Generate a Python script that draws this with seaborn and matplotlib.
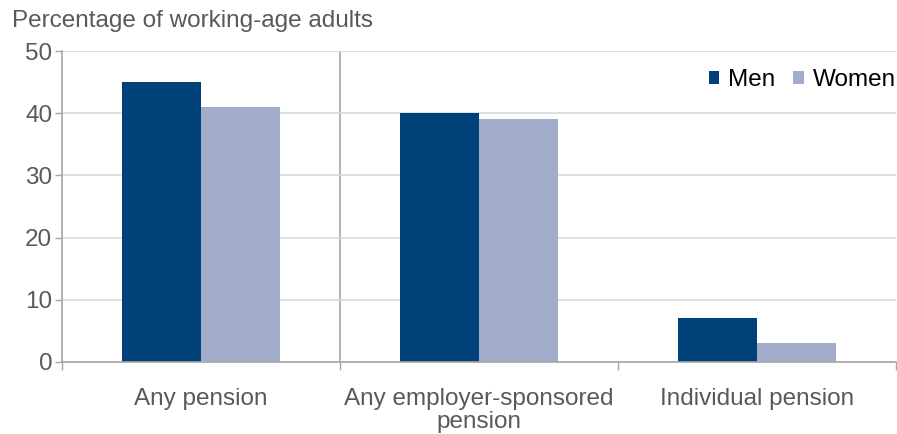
import matplotlib
matplotlib.use("Agg")
import matplotlib.pyplot as plt
import seaborn as sns
import pandas as pd

categories = ["Any pension", "Any employer-sponsored\npension", "Individual pension"]
men = [45, 40, 7]
women = [41, 39, 3]
series = ["Men", "Women"]
colors = ["#00417A", "#A2ADCB"]

df = pd.DataFrame({
    "category": categories * 2,
    "value": men + women,
    "sex": ["Men"] * 3 + ["Women"] * 3,
})

sns.set_theme(style="white")
plt.rcParams["font.family"] = ["Liberation Sans", "DejaVu Sans"]

fig = plt.figure(figsize=(8.97, 4.34), dpi=100)
ax = fig.add_axes([62 / 897, 1 - 362 / 434, (896 - 62) / 897, (362 - 51) / 434])

sns.barplot(data=df, x="category", y="value", hue="sex", hue_order=series,
            palette=colors, width=0.565, saturation=1, ax=ax, legend=True,
            linewidth=0)

ax.set_xlim(-0.5, 2.5)
ax.set_ylim(0, 50)
ax.set_yticks([0, 10, 20, 30, 40, 50])
ax.yaxis.grid(True, color="#D9D9D9", linewidth=1.2)
ax.set_axisbelow(True)
ax.axvline(0.5, color="#A6A6A6", linewidth=1.2, zorder=0.5)

# category boundary ticks + centered labels
ax.set_xticks([-0.5, 0.5, 1.5, 2.5])
ax.set_xticklabels([])
ax.set_xticks([0, 1, 2], minor=True)
ax.set_xticklabels(categories, minor=True, linespacing=1.05)
ax.tick_params(axis="x", which="major", length=6, width=1, color="#A6A6A6", direction="out", bottom=True)
ax.tick_params(axis="x", which="minor", length=0, labelsize=17.5, labelcolor="#595959", pad=19)
ax.tick_params(axis="y", length=5, width=1, color="#A6A6A6", direction="out", left=True,
               labelsize=17.5, labelcolor="#595959", pad=2)

for s in ["top", "right"]:
    ax.spines[s].set_visible(False)
for s in ["left", "bottom"]:
    ax.spines[s].set_color("#A6A6A6")
    ax.spines[s].set_linewidth(1.2)

ax.set_xlabel("")
ax.set_ylabel("")

handles, labels = ax.get_legend_handles_labels()
leg = ax.legend(handles, labels, loc="upper right", bbox_to_anchor=(1.0, 0.943), ncol=2, frameon=False,
                fontsize=17.5, handlelength=0.45, handleheight=0.45, handletextpad=0.35, columnspacing=0.75,
                borderaxespad=0, borderpad=0)
for t in leg.get_texts():
    t.set_color("black")

fig.text(12 / 897, 1 - 21 / 434, "Percentage of working-age adults", fontsize=17.5,
         color="#595959", va="center", ha="left")

fig.savefig("out.png", dpi=100)
